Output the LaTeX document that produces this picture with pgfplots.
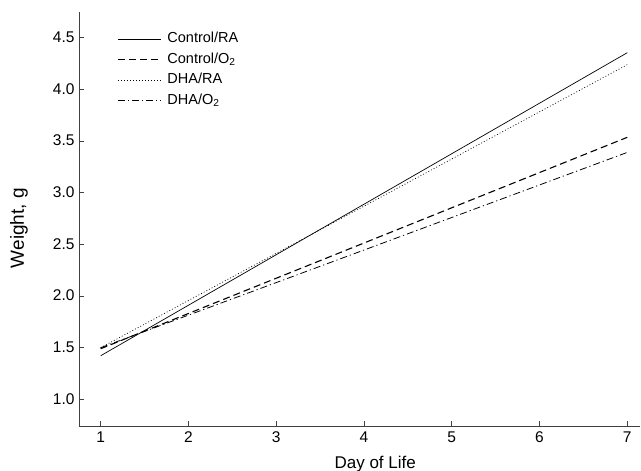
\documentclass[border=0pt]{standalone}
\usepackage{pgfplots}
\pgfplotsset{compat=1.18}
\usepackage{fontspec}
\setmainfont{Liberation Sans}
\begin{document}
\begin{tikzpicture}
\useasboundingbox (-79bp,-45bp) rectangle (562bp,426bp);
\begin{axis}[
  at={(0,0)}, anchor=south west,
  scale only axis, width=561bp, height=414bp,
  xmin=0.753, xmax=7.145, ymin=0.742, ymax=4.749,
  axis x line*=bottom, axis y line*=left,
  axis line style={black!75, line width=0.8pt},
  xtick={1,...,7},
  ytick={1.0,1.5,2.0,2.5,3.0,3.5,4.0,4.5},
  yticklabel style={xshift=-1bp, yshift=0.5bp, /pgf/number format/.cd, fixed, fixed zerofill, precision=1},
  /pgf/number format/assume math mode=true,
  tick align=inside, major tick length=5bp,
  tick style={black!75, line width=0.6pt},
  ticklabel style={font=\fontsize{15.5bp}{17bp}\selectfont},
  xticklabel style={yshift=-2bp},
  xlabel={Day of Life}, ylabel={Weight, g},
  xlabel style={font=\fontsize{17bp}{19bp}\selectfont,
    at={(axis description cs:0.528,-0.1015)}, anchor=base},
  ylabel style={font=\fontsize{19bp}{21bp}\selectfont,
    at={(axis description cs:-0.107,0.478)}, anchor=center, rotate=0},
  legend image code/.code={\draw[#1] (0bp,0bp) -- (43bp,0bp);},
  legend style={draw=none, fill=none, at={(axis description cs:0.068,0.953)}, anchor=north west,
    font=\fontsize{14.5bp}{16bp}\selectfont, row sep=5.5bp, inner sep=0pt,
    nodes={text height=11bp, text depth=4bp, inner sep=0pt, inner xsep=6bp},
    legend cell align=left},
]
\addplot[black, line width=0.7pt] coordinates {(1,1.422) (7,4.355)};
\addlegendentry{Control/RA}
\addplot[black, line width=1.1pt, dash pattern=on 7bp off 4bp] coordinates {(1,1.49) (7,3.536)};
\addlegendentry{Control/O\textsubscript{2}}
\addplot[black, line width=0.7pt, dash pattern=on 0.9bp off 2.1bp] coordinates {(1,1.50) (7,4.239)};
\addlegendentry{DHA/RA}
\addplot[black, line width=0.8pt, dash pattern=on 7bp off 3bp on 1.2bp off 3bp] coordinates {(1,1.50) (7,3.39)};
\addlegendentry{DHA/O\textsubscript{2}}
\end{axis}
\end{tikzpicture}
\end{document}
